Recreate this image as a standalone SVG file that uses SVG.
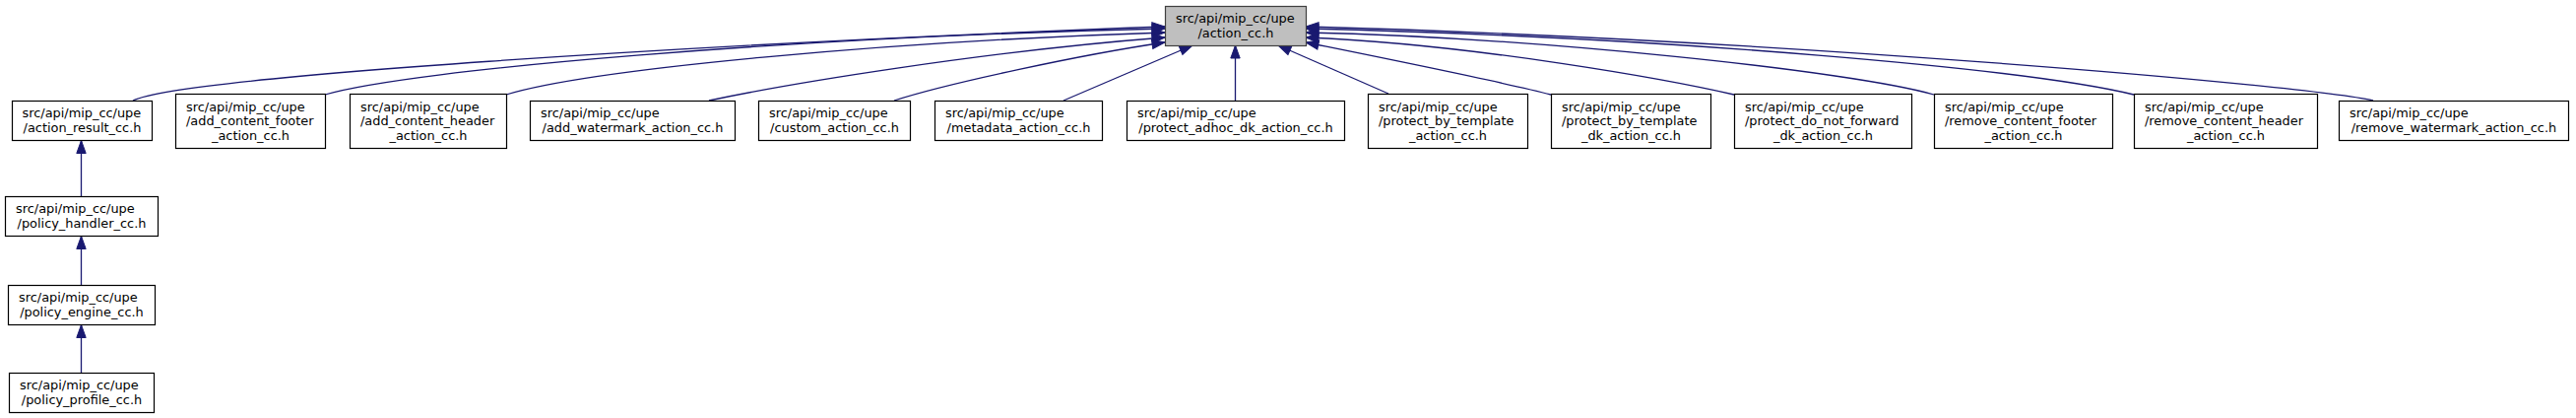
<svg xmlns="http://www.w3.org/2000/svg" width="2616" height="424" viewBox="0 0 2616 424">
<style>
.n rect{fill:#ffffff;stroke:#000000;stroke-width:1.2}
#main rect{fill:#bfbfbf;stroke:#404040}
text{font-family:"DejaVu Sans","Liberation Sans",sans-serif;font-size:12.9px;fill:#000000}
.c{text-anchor:middle}
#edges path{fill:none;stroke:#191970;stroke-width:1.3;marker-end:url(#ah)}
</style>
<defs>
<marker id="ah" markerUnits="userSpaceOnUse" viewBox="0 0 14 10" markerWidth="14" markerHeight="10" refX="13" refY="5" orient="auto" overflow="visible">
<path d="M0,0.3 L13,5 L0,9.7 z" fill="#191970" stroke="#191970" stroke-width="1"/>
</marker>
</defs>
<rect width="2616" height="424" fill="#ffffff"/>
<g id="edges">
<path d="M135,102 C185,78 700,45 1183,27"/>
<path d="M330,96 C420,70 800,38 1183,29"/>
<path d="M514,96 C600,70 900,42 1183,33"/>
<path d="M720,102 C800,85 1000,52 1183,38"/>
<path d="M908,102 C960,85 1100,55 1183,43"/>
<path d="M1080,102 L1211,46"/>
<path d="M1254.5,102 L1254.5,46"/>
<path d="M1410,95 L1298,46"/>
<path d="M1575,96 C1530,84 1420,62 1326,43"/>
<path d="M1761,96 C1700,82 1500,45 1326,38"/>
<path d="M1964,96 C1880,72 1560,38 1326,33"/>
<path d="M2167,96 C2060,70 1700,38 1326,29"/>
<path d="M2410,102 C2340,86 1800,40 1326,27"/>
<path d="M82.5,199 L82.5,142.5"/>
<path d="M82.5,289 L82.5,239.5"/>
<path d="M82.5,378 L82.5,329.5"/>
</g>
<g id="main" class="n"><rect x="1183.5" y="6.5" width="143" height="40"/><text x="1194" y="23.25">src/api/mip_cc/upe</text><text class="c" x="1255" y="37.75">/action_cc.h</text></g>
<g id="action_result" class="n"><rect x="12.5" y="102.5" width="142" height="40"/><text x="22.5" y="119.25">src/api/mip_cc/upe</text><text class="c" x="83.5" y="133.75">/action_result_cc.h</text></g>
<g id="add_content_footer" class="n"><rect x="178.5" y="95.5" width="152" height="55"/><text x="189" y="112.5">src/api/mip_cc/upe</text><text x="189" y="127">/add_content_footer</text><text class="c" x="254.5" y="141.5">_action_cc.h</text></g>
<g id="add_content_header" class="n"><rect x="355.5" y="95.5" width="159" height="55"/><text x="366" y="112.5">src/api/mip_cc/upe</text><text x="366" y="127">/add_content_header</text><text class="c" x="435" y="141.5">_action_cc.h</text></g>
<g id="add_watermark" class="n"><rect x="538.5" y="102.5" width="208" height="40"/><text x="549" y="119.25">src/api/mip_cc/upe</text><text class="c" x="642.5" y="133.75">/add_watermark_action_cc.h</text></g>
<g id="custom" class="n"><rect x="770.5" y="102.5" width="154" height="40"/><text x="781" y="119.25">src/api/mip_cc/upe</text><text class="c" x="847.5" y="133.75">/custom_action_cc.h</text></g>
<g id="metadata" class="n"><rect x="949.5" y="102.5" width="170" height="40"/><text x="960" y="119.25">src/api/mip_cc/upe</text><text class="c" x="1034.5" y="133.75">/metadata_action_cc.h</text></g>
<g id="protect_adhoc" class="n"><rect x="1144.5" y="102.5" width="221" height="40"/><text x="1155" y="119.25">src/api/mip_cc/upe</text><text class="c" x="1255" y="133.75">/protect_adhoc_dk_action_cc.h</text></g>
<g id="protect_by_template" class="n"><rect x="1389.5" y="95.5" width="162" height="55"/><text x="1400" y="112.5">src/api/mip_cc/upe</text><text x="1400" y="127">/protect_by_template</text><text class="c" x="1470.5" y="141.5">_action_cc.h</text></g>
<g id="protect_by_template_dk" class="n"><rect x="1575.5" y="95.5" width="162" height="55"/><text x="1586" y="112.5">src/api/mip_cc/upe</text><text x="1586" y="127">/protect_by_template</text><text class="c" x="1656.5" y="141.5">_dk_action_cc.h</text></g>
<g id="protect_do_not_forward" class="n"><rect x="1761.5" y="95.5" width="180" height="55"/><text x="1772" y="112.5">src/api/mip_cc/upe</text><text x="1772" y="127">/protect_do_not_forward</text><text class="c" x="1851.5" y="141.5">_dk_action_cc.h</text></g>
<g id="remove_content_footer" class="n"><rect x="1964.5" y="95.5" width="181" height="55"/><text x="1975" y="112.5">src/api/mip_cc/upe</text><text x="1975" y="127">/remove_content_footer</text><text class="c" x="2055" y="141.5">_action_cc.h</text></g>
<g id="remove_content_header" class="n"><rect x="2167.5" y="95.5" width="186" height="55"/><text x="2178" y="112.5">src/api/mip_cc/upe</text><text x="2178" y="127">/remove_content_header</text><text class="c" x="2260.5" y="141.5">_action_cc.h</text></g>
<g id="remove_watermark" class="n"><rect x="2375.5" y="102.5" width="233" height="40"/><text x="2386" y="119.25">src/api/mip_cc/upe</text><text class="c" x="2492" y="133.75">/remove_watermark_action_cc.h</text></g>
<g id="policy_handler" class="n"><rect x="5.5" y="199.5" width="155" height="40"/><text x="16" y="216.25">src/api/mip_cc/upe</text><text class="c" x="83" y="230.75">/policy_handler_cc.h</text></g>
<g id="policy_engine" class="n"><rect x="8.5" y="289.5" width="149" height="40"/><text x="19" y="306.25">src/api/mip_cc/upe</text><text class="c" x="83" y="320.75">/policy_engine_cc.h</text></g>
<g id="policy_profile" class="n"><rect x="9.5" y="378.5" width="147" height="40"/><text x="20" y="395.25">src/api/mip_cc/upe</text><text class="c" x="83" y="409.75">/policy_profile_cc.h</text></g>
</svg>
